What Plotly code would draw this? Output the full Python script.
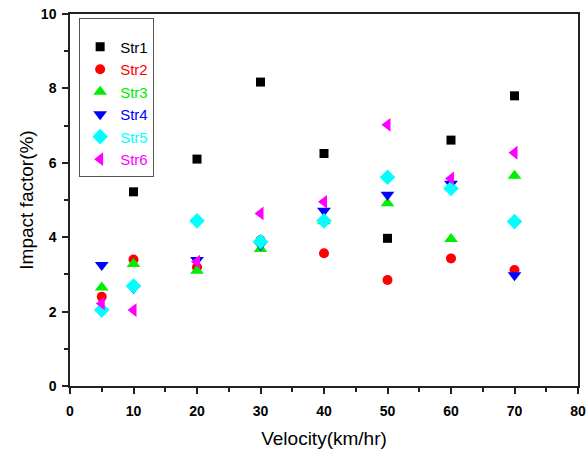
import plotly.graph_objects as go

velocity = [5, 10, 20, 30, 40, 50, 60, 70]
str1 = [5.81, 5.22, 6.10, 8.17, 6.25, 3.97, 6.61, 7.80]
str2 = [2.40, 3.40, 3.19, 3.92, 3.57, 2.85, 3.43, 3.12]
str3 = [2.65, 3.28, 3.10, 3.68, 4.43, 4.91, 3.95, 5.65]
str4 = [3.25, 2.63, 3.39, 3.79, 4.71, 5.14, 5.44, 2.98]
str5 = [2.04, 2.69, 4.44, 3.88, 4.44, 5.61, 5.31, 4.42]
str6 = [2.22, 2.04, 3.34, 4.64, 4.95, 7.02, 5.58, 6.27]

series_names = ["Str1", "Str2", "Str3", "Str4", "Str5", "Str6"]
series_values = [str1, str2, str3, str4, str5, str6]
colors = ["#000000", "#ff0000", "#00ee00", "#0000ff", "#00ffff", "#ff00ff"]
symbols = ["square", "circle", "triangle-up", "triangle-down", "diamond", "triangle-left"]
sizes = [9, 10, 12, 12, 12, 12]

fig = go.Figure()
for name, vals, c, s, sz in zip(series_names, series_values, colors, symbols, sizes):
    fig.add_trace(go.Scatter(
        x=velocity, y=vals, mode="markers",
        name=f"<span style='color:{c}'>{name}</span>",
        marker=dict(symbol=s, color=c, size=sz, line=dict(width=0)),
    ))

axis_common = dict(
    showline=True, linecolor="#222", linewidth=1.5, mirror=True,
    ticks="outside", ticklen=6, tickwidth=1.5, tickcolor="#222",
    showgrid=False, zeroline=False, automargin=False,
    ticklabeloverflow="allow",
    tickfont=dict(family="Liberation Sans, Arial", size=14, color="#000", weight="bold"),
    title_font=dict(family="Liberation Sans, Arial", size=19, color="#000"),
)

fig.update_xaxes(range=[0, 80], dtick=10, title_text="Velocity(km/hr)",
                 minor=dict(dtick=5, ticks="outside", ticklen=4, tickwidth=1.5, tickcolor="#222"),
                 ticklabelstandoff=5, title_standoff=14, **axis_common)
fig.update_yaxes(range=[0, 10], dtick=2, title_text="Impact factor(%)",
                 minor=dict(dtick=1, ticks="outside", ticklen=4, tickwidth=1.5, tickcolor="#222"),
                 ticklabelstandoff=3, title_standoff=2, **axis_common)

fig.update_layout(
    width=586, height=453,
    margin=dict(l=70, r=8, t=14, b=67),
    plot_bgcolor="white", paper_bgcolor="white",
    font=dict(family="Liberation Sans, Arial"),
    legend=dict(
        x=0.018, y=0.99, xanchor="left", yanchor="top",
        bgcolor="white", bordercolor="#555", borderwidth=1,
        font=dict(size=15, family="Liberation Sans, Arial"),
        title=dict(text=" ", font=dict(size=9)),
        tracegroupgap=0,
    ),
)

fig.write_html(
    "out.html",
    config={"displayModeBar": False},
    post_script="document.body.style.margin='0';document.body.style.overflow='hidden';",
)
